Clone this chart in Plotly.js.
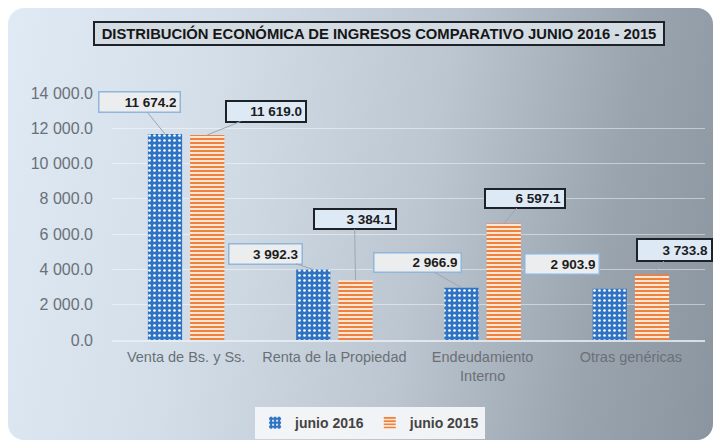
<!DOCTYPE html>
<html>
<head>
<meta charset="utf-8">
<script src="https://cdn.plot.ly/plotly-3.0.1.min.js"></script>
<style>
  html, body { margin:0; padding:0; background:#ffffff; }
  #wrap { position:relative; width:720px; height:443px; overflow:hidden; background:#ffffff; }
  #bg { position:absolute; left:8px; top:8px; width:705px; height:432px; border-radius:16px;
        background: linear-gradient(100deg, #dfeaf5 0%, #d3dee9 28%, #bcc6d0 58%, #9aa4ae 82%, #8b959f 100%); }
  #chart { position:absolute; left:0; top:0; width:720px; height:443px; }
</style>
</head>
<body>
<div id="wrap"><div id="bg"></div><div id="chart"></div></div>
<script>
// ---- data ----
const categories = ["Venta de Bs. y Ss.", "Renta de la Propiedad", "Endeudamiento<br>Interno", "Otras genéricas"];
const seriesNames = ["junio 2016", "junio 2015"];
const values2016 = [11674.2, 3992.3, 2966.9, 2903.9];
const values2015 = [11619.0, 3384.1, 6597.1, 3733.8];
const yTicks = [0, 2000, 4000, 6000, 8000, 10000, 12000, 14000];
const titleText = "DISTRIBUCIÓN ECONÓMICA DE INGRESOS COMPARATIVO JUNIO 2016 - 2015";

// label box offsets (pixels from bar top) - styling only
const off2016 = [[-26, -32], [-48, -16], [-44, -25], [-48, -25]];
const off2015 = [[59, -24], [-1, -61], [21, -25], [22, -24]];
const box2016 = [[83, 22], [75, 22], [89, 21], [76, 22]];
const box2015 = [[82, 23], [84, 22], [82, 21], [77, 24]];

function fmt(v) {
  const s = v.toFixed(1);
  const [ip, dp] = s.split(".");
  return ip.replace(/\B(?=(\d{3})+(?!\d))/g, " ") + "." + dp;
}

const FONT = "Liberation Sans, Arial, sans-serif";
const BG = 0.43, BGG = 0.19;
const half = (1 - BG) / 4; // centre offset of each bar within group

const traces = [
  {
    type: "bar", name: seriesNames[0], x: categories, y: values2016,
    marker: { color: "#2f74c4", line: { width: 0 },
      pattern: { shape: ".", fgcolor: "#ffffff", bgcolor: "#2f74c4", size: 5, solidity: 0.22 } },
    hoverinfo: "skip"
  },
  {
    type: "bar", name: seriesNames[1], x: categories, y: values2015,
    marker: { color: "#f08a45", line: { width: 0 },
      pattern: { shape: "-", fgcolor: "#ee8040", bgcolor: "#fde6d2", size: 4, solidity: 0.5 } },
    hoverinfo: "skip"
  }
];

const ann = [];
function addLabels(vals, sign, offs, boxes, style) {
  vals.forEach((v, i) => {
    const bw = style.bw, pad = 3;
    ann.push({
      x: i + sign * half, y: v, xref: "x", yref: "y",
      text: "<b>" + fmt(v) + "</b>",
      showarrow: true, arrowhead: 0, arrowwidth: 1, arrowcolor: "#9ea7b0",
      ax: offs[i][0], ay: offs[i][1],
      bgcolor: style.bg, bordercolor: style.border, borderwidth: bw, borderpad: pad,
      width: boxes[i][0] - 2 * (pad + bw), height: boxes[i][1] - 2 * (pad + bw),
      align: "right", valign: "middle",
      font: { family: FONT, size: 13.5, color: "#1c1c1c" }
    });
  });
}
addLabels(values2016, -1, off2016, box2016, { bg: "#ebedef", border: "#8fb6dc", bw: 1.5 });
addLabels(values2015, 1, off2015, box2015, { bg: "#dde9f5", border: "#1e2226", bw: 2 });

ann.push({
  xref: "paper", yref: "paper", x: 0.450, y: 1.239, xanchor: "center", yanchor: "middle",
  text: "<b>" + titleText + "</b>", showarrow: false,
  bgcolor: "#d3dbe3", bordercolor: "#1e2226", borderwidth: 2, borderpad: 2,
  width: 564, height: 17,
  font: { family: FONT, size: 14.8, color: "#161616" }
});

const layout = {
  width: 720, height: 443,
  margin: { l: 112, r: 15, t: 93, b: 103 },
  paper_bgcolor: "rgba(0,0,0,0)", plot_bgcolor: "rgba(0,0,0,0)",
  separators: ". ",
  barmode: "group", bargap: BG, bargroupgap: BGG,
  showlegend: true,
  legend: {
    orientation: "h", xref: "container", yref: "container",
    x: 0.514, xanchor: "center", y: 0.081, yanchor: "top",
    bgcolor: "rgba(244,246,248,0.95)", borderwidth: 0,
    font: { family: FONT, size: 14, color: "#444444", weight: "bold" },
    itemwidth: 30
  },
  xaxis: {
    type: "category", range: [-0.5, 3.5], autorange: false,
    showgrid: false, ticks: "", showline: true, linecolor: "rgba(235,240,245,0.8)", linewidth: 1.5,
    tickfont: { family: FONT, size: 14.5, color: "#6b7077" }, ticklabelstandoff: 3,
    fixedrange: true
  },
  yaxis: {
    range: [0, 14000], autorange: false, tickvals: yTicks, tickformat: ",.1f", showgrid: true,
    gridcolor: "rgba(255,255,255,0.45)", gridwidth: 1, zeroline: false, showline: false, ticks: "",
    tickfont: { family: FONT, size: 16, color: "#6b7077" }, ticklabelstandoff: 18,
    fixedrange: true
  },
  annotations: ann
};

Plotly.newPlot("chart", traces, layout, { displayModeBar: false, staticPlot: true });
</script>
</body>
</html>
